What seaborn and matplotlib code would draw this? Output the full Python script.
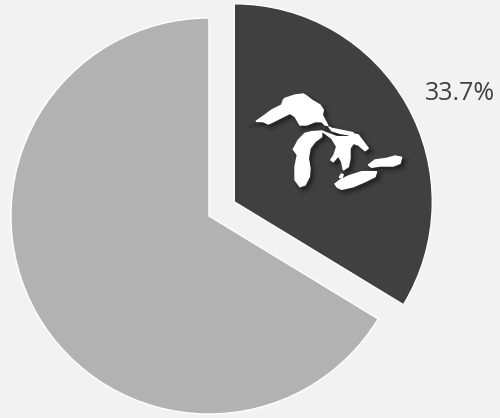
import numpy as np
import seaborn as sns
import matplotlib.pyplot as plt
from matplotlib.patches import Polygon

sns.set_theme(style='white')
plt.rcParams['font.family'] = ['Open Sans', 'DejaVu Sans']

# share of the two slices
labels = ['Great Lakes', 'Other']
values = [33.7, 66.3]
colors = ['#404040', '#b2b2b2']

# lake outlines (zoomed crop coordinates)
superior = [(48, 124), (75, 105), (95, 90), (125, 75), (130, 60), (135, 55), (150, 50), (165, 45), (190, 42),
            (200, 48), (215, 60), (240, 75), (250, 90), (247, 105), (255, 120), (264, 137), (255, 135), (245, 125),
            (225, 125), (200, 135), (180, 135), (165, 110), (150, 100), (130, 110), (100, 125), (85, 132), (70, 125)]
michigan = [(160, 208), (175, 180), (195, 160), (215, 155), (245, 153), (245, 170), (225, 185), (210, 205),
            (205, 235), (210, 265), (208, 290), (195, 315), (180, 320), (165, 300), (165, 260), (172, 225)]
huron = [(245, 153), (290, 170), (325, 170), (335, 160), (355, 165), (370, 185), (385, 205), (375, 212), (355, 195),
         (340, 190), (330, 205), (330, 235), (325, 260), (310, 270), (305, 245), (295, 228), (280, 245),
         (272, 240), (282, 225), (290, 200), (275, 175)]
channel = [(266, 140), (275, 145), (310, 152), (340, 158), (330, 165), (300, 160), (275, 152)]
erie = [(285, 312), (300, 300), (325, 288), (365, 275), (410, 275), (405, 290), (375, 305), (340, 320),
        (305, 328), (292, 322)]
ontario = [(385, 255), (405, 240), (440, 235), (465, 228), (485, 232), (480, 250), (460, 258), (420, 258), (395, 262)]
st_clair = [(298, 292), (304, 282), (310, 284), (305, 294)]
lakes = [superior, michigan, huron, channel, erie, ontario, st_clair]

fig = plt.figure(figsize=(5, 4.18), dpi=100, facecolor='#f2f2f2')
ax = fig.add_axes([0, 0, 1, 1])
ax.pie(values, colors=colors, startangle=90, counterclock=False, explode=[29, 0],
       center=(209, 202), radius=198)
ax.set_xlim(0, 500)
ax.set_ylim(0, 418)
ax.text(460, 324, f'{values[0]:.1f}%', color='#404040', fontsize=18, ha='center', va='center')


def to_pixels(outline, dx=0, dy=0):
    pts = np.array(outline) / 3 + [240 + dx, 80 + dy]
    pts[:, 1] = 418 - pts[:, 1]
    return pts


for lake in lakes:
    for lw, a in [(7, 0.04), (5, 0.05), (3, 0.07), (1, 0.09)]:
        ax.add_patch(Polygon(to_pixels(lake, 3, 3), closed=True, fc='black', ec='black', lw=lw, alpha=a, zorder=3))
for lake in lakes:
    ax.add_patch(Polygon(to_pixels(lake), closed=True, fc='white', ec='white', lw=1, zorder=4))

fig.savefig('out.png', dpi=100, facecolor=fig.get_facecolor())
